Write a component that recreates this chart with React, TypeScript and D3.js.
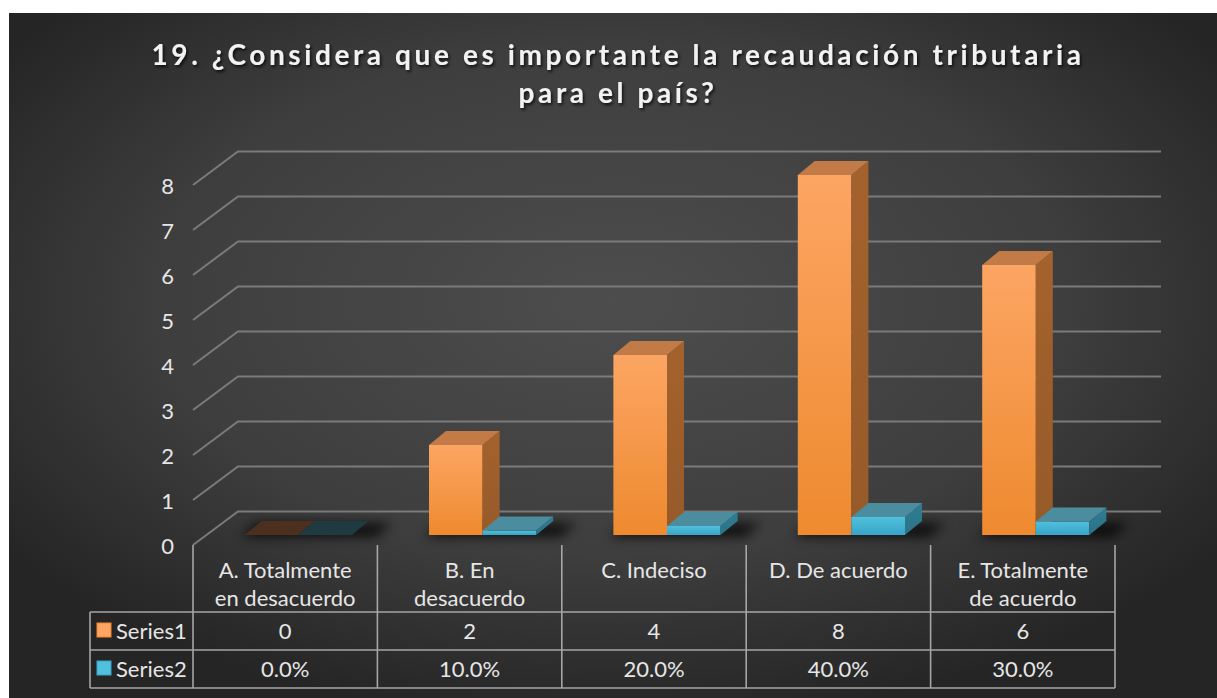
import React from "react";
import * as d3 from "d3";

const categories = [
  "A. Totalmente en desacuerdo",
  "B. En desacuerdo",
  "C. Indeciso",
  "D. De acuerdo",
  "E. Totalmente de acuerdo",
];
const categoryLines = [
  ["A. Totalmente", "en desacuerdo"],
  ["B. En", "desacuerdo"],
  ["C. Indeciso"],
  ["D. De acuerdo"],
  ["E. Totalmente", "de acuerdo"],
];
const seriesNames = ["Series1", "Series2"];
const series1 = [0, 2, 4, 8, 6];
const series2 = [0, 0.1, 0.2, 0.4, 0.3];
const yTicks = [0, 1, 2, 3, 4, 5, 6, 7, 8];
const titleLines = ["19. ¿Considera que es importante la recaudación tributaria", "para el país?"];

const W = 1217, H = 698;
const FONT = "Lato, 'Open Sans', sans-serif";
// floor depth (front-left -> back wall)
const DX = 45, DY = 33.5;
// bars sit this far back from the front edge, with this depth
const BX = 13, BY = 10;
const CX = 17, CY = 14;

const x = d3.scaleBand<string>().domain(categories).range([193, 1115]);
const inner = d3.scaleBand<string>().domain(seriesNames).range([0, x.bandwidth()]).paddingOuter(0.72).paddingInner(0);
const y = d3.scaleLinear().domain([0, 8]).range([545, 185]);

const colors = {
  Series1: { top: "#c27b47", side: "#a4622d", zero: "#4b2f1f", a: "#fca563", b: "#ee8a2f" },
  Series2: { top: "#4b8d9f", side: "#2f7d93", zero: "#1f3a41", a: "#4fc0dd", b: "#38a4c6" },
};

function pts(p: number[][]) {
  return p.map((d) => d.join(",")).join(" ");
}

function Bar({ x0, w, v, s }: { x0: number; w: number; v: number; s: "Series1" | "Series2" }) {
  const c = colors[s];
  const l = x0 + BX, r = l + w;
  const bot = y(0) - BY, top = y(v) - BY;
  const h = bot - top;
  return (
    <g>
      {h > 0.5 && <rect x={l} y={top} width={w} height={h} fill={`url(#grad-${s})`} />}
      {h > 0.5 && (
        <polygon points={pts([[r, top], [r + CX, top - CY], [r + CX, bot - CY], [r, bot]])} fill={`url(#side-${s})`} />
      )}
      <polygon
        points={pts([[l, top], [l + CX, top - CY], [r + CX, top - CY], [r, top]])}
        fill={h > 0.5 ? c.top : c.zero}
      />
    </g>
  );
}

export default function App() {
  const rows = [series1.map(String), series2.map((v) => (v * 100).toFixed(1) + "%")];
  const tableTop = 545, headBot = 612, rowH = 38;
  return (
    <div style={{ position: "fixed", left: 0, top: 0 }}>
      <svg width={W} height={H} style={{ display: "block" }}>
        <defs>
          <radialGradient id="bg" cx="0.5" cy="0.42" r="0.62">
            <stop offset="0" stopColor="#4d4d4d" />
            <stop offset="0.6" stopColor="#3e3e3e" />
            <stop offset="1" stopColor="#252525" />
          </radialGradient>
          {seriesNames.map((s) => (
            <React.Fragment key={s}>
              <linearGradient id={`grad-${s}`} x1="0" y1="0" x2="0" y2="1">
                <stop offset="0" stopColor={colors[s as "Series1"].a} />
                <stop offset="1" stopColor={colors[s as "Series1"].b} />
              </linearGradient>
              <linearGradient id={`side-${s}`} x1="0" y1="0" x2="0" y2="1">
                <stop offset="0" stopColor={colors[s as "Series1"].side} />
                <stop offset="1" stopColor={d3.color(colors[s as "Series1"].side)!.darker(0.25).toString()} />
              </linearGradient>
            </React.Fragment>
          ))}
          <filter id="blur" x="-20%" y="-100%" width="140%" height="300%">
            <feGaussianBlur stdDeviation="6" />
          </filter>
          <filter id="tshadow" x="-5%" y="-30%" width="110%" height="160%">
            <feDropShadow dx="1.5" dy="2" stdDeviation="1.5" floodColor="#000" floodOpacity="0.75" />
          </filter>
        </defs>
        <rect width={W} height={H} fill="#fff" />
        <rect x={9} y={13} width={W - 9} height={H - 13} fill="url(#bg)" />

        {/* title */}
        <g filter="url(#tshadow)" fill="#f2f2f2" fontFamily={FONT} fontWeight="bold" fontSize={28} textAnchor="middle" letterSpacing={3.6}>
          {titleLines.map((t, i) => (
            <text key={i} x={618} y={65 + i * 38}>{t}</text>
          ))}
        </g>

        {/* gridlines: diagonal side + back wall */}
        <g stroke="#7b7b7b" strokeWidth={2} fill="none">
          {yTicks.map((t) => (
            <polyline key={t} points={pts([[193, y(t)], [193 + DX, y(t) - DY], [1161, y(t) - DY]])} />
          ))}
        </g>
        <g fill="#e6e6e6" fontFamily={FONT} fontSize={22} textAnchor="end">
          {yTicks.map((t) => (
            <text key={t} x={174} y={y(t) + 9}>{t}</text>
          ))}
        </g>

        {/* bars */}
        {categories.map((cat, i) => {
          const x0 = x(cat)!;
          const l = x0 + BX + inner("Series1")!;
          const r = x0 + BX + inner("Series2")! + inner.bandwidth();
          const b = y(0) - BY;
          return (
            <g key={cat}>
              <polygon
                points={pts([[l - 4, b + 2], [l + 12, b - 12], [r + 40, b - 12], [r + 24, b + 2]])}
                fill="#000"
                opacity={0.75}
                filter="url(#blur)"
              />
              <Bar x0={x0 + inner("Series1")!} w={inner.bandwidth()} v={series1[i]} s="Series1" />
              <Bar x0={x0 + inner("Series2")!} w={inner.bandwidth()} v={series2[i]} s="Series2" />
            </g>
          );
        })}

        {/* data table */}
        <g stroke="#a6a6a6" strokeWidth={1.6} fill="none">
          {d3.range(categories.length + 1).map((k) => {
            const xx = k < categories.length ? x(categories[k])! : x.range()[1];
            return <line key={k} x1={xx} x2={xx} y1={tableTop} y2={headBot + 2 * rowH} />;
          })}
          <line x1={90} x2={90} y1={headBot} y2={headBot + 2 * rowH} />
          {[0, 1, 2].map((k) => (
            <line key={k} x1={90} x2={x.range()[1]} y1={headBot + k * rowH} y2={headBot + k * rowH} />
          ))}
        </g>
        <g fill="#e6e6e6" fontFamily={FONT} fontSize={22} textAnchor="middle">
          {categories.map((cat, i) =>
            categoryLines[i].map((ln, j) => (
              <text key={cat + j} x={x(cat)! + x.bandwidth() / 2} y={578 + j * 28}>{ln}</text>
            ))
          )}
          {rows.map((row, k) =>
            row.map((v, i) => (
              <text key={k + "-" + i} x={x(categories[i])! + x.bandwidth() / 2} y={headBot + k * rowH + 27}>{v}</text>
            ))
          )}
        </g>
        {seriesNames.map((s, k) => (
          <g key={s}>
            <rect x={97} y={headBot + k * rowH + 11} width={14} height={14} fill={colors[s as "Series1"].a} stroke={colors[s as "Series1"].b} />
            <text x={116} y={headBot + k * rowH + 27} fill="#e6e6e6" fontFamily={FONT} fontSize={22}>{s}</text>
          </g>
        ))}
      </svg>
    </div>
  );
}
